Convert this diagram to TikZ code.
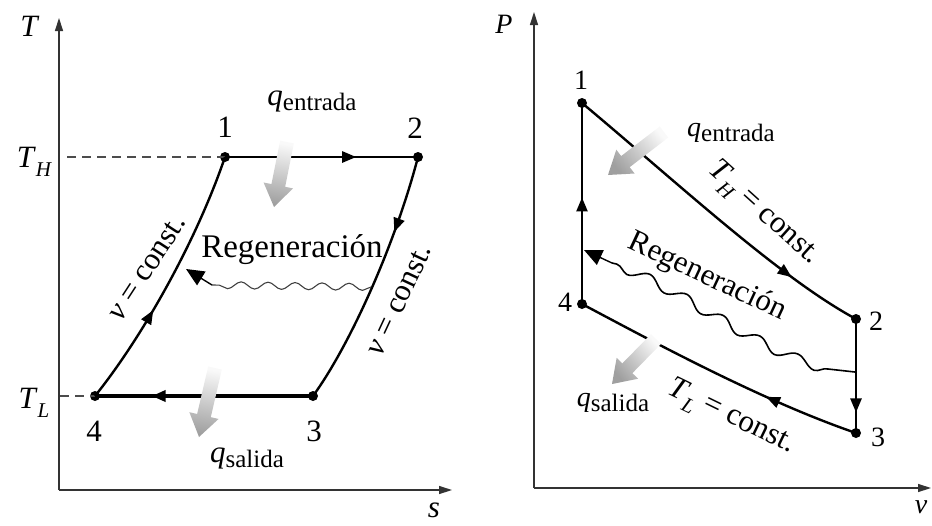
\documentclass[tikz,border=0pt]{standalone}
\usepackage{fontspec}
\setmainfont{Liberation Serif}
\usetikzlibrary{arrows.meta,decorations.markings,decorations.pathmorphing,calc}
\tikzset{
  lbl/.style={inner sep=0pt, font=\fontsize{31}{33}\selectfont},
  slbl/.style={inner sep=0pt, font=\fontsize{28}{30}\selectfont},
  rlbl/.style={inner sep=0pt, font=\fontsize{31}{33}\selectfont},
  reglbl/.style={inner sep=0pt, font=\fontsize{33}{35}\selectfont},
  dot/.style={circle, fill=black, inner sep=0pt, minimum size=10pt},
  axisline/.style={line width=1.4pt, draw=black!80, -{Triangle[length=13pt,width=8pt]}},
  proc/.style={line width=2.4pt},
  thickproc/.style={line width=4pt},
  guide/.style={line width=1.3pt, draw=black!70, dash pattern=on 9pt off 6pt},
  midarrow/.style={postaction={decorate}, decoration={markings,
      mark=at position #1 with {\arrow{Triangle[length=14pt,width=11pt]}}}},
  waveL/.style={line width=1.1pt, draw=black!75, decorate,
      decoration={snake, amplitude=3.5pt, segment length=27pt}},
  waveR/.style={line width=1.6pt, decorate,
      decoration={snake, amplitude=5pt, segment length=42pt}},
  bigtip/.style={line width=1.4pt, -{Triangle[length=18pt,width=16pt]}},
}
\newcommand{\heatarrow}[3]{%
  \coordinate (hb) at ($(#2)!22pt!(#1)$);
  \shade[top color=gray!5, bottom color=gray!75, shading angle=#3]
    ($(#1)!7pt!90:(#2)$) -- ($(hb)!7pt!90:(#2)$) -- ($(hb)!15pt!90:(#2)$) --
    (#2) -- ($(hb)!15pt!-90:(#2)$) -- ($(hb)!7pt!-90:(#2)$) --
    ($(#1)!7pt!-90:(#2)$) -- cycle;}
\newcommand{\iv}[1]{\textit{#1}}
\newcommand{\qsub}[1]{\raisebox{-5pt}{\fontsize{25}{25}\selectfont #1}}
\newcommand{\tsub}[1]{\raisebox{-9pt}{\fontsize{21}{21}\selectfont\itshape #1}}
\begin{document}
\begin{tikzpicture}[x=1pt,y=-1pt]
\useasboundingbox (0,0) rectangle (932,525);
% ---------------- left T-s diagram ----------------
\coordinate (TO) at (59,490);
\coordinate (Ttop) at (59,18);
\coordinate (Send) at (452,490);
\draw[axisline] (TO) -- (Ttop);
\draw[axisline] (TO) -- (Send);
\node[lbl] (Tlab) at (30,26) {\iv{T}};
\node[lbl] (slab) at (434,510) {\iv{s}};
\node[lbl] (THlab) at (34,162) {\iv{T}\tsub{H}};
\node[lbl] (TLlab) at (34,403) {\iv{T}\tsub{L}};

\node[dot] (p1) at (225,157) {};
\node[dot] (p2) at (418,157) {};
\node[dot] (p3) at (313,396) {};
\node[dot] (p4) at (95,396) {};
\coordinate (dH) at (67,157);
\coordinate (dL) at (60,396);
\draw[guide] (dH) -- (p1.center);
\draw[guide] (dL) -- (p4.center);

\draw[proc, midarrow=0.68] (p1.center) -- (p2.center);
\draw[thickproc, midarrow=0.74] (p3.center) -- (p4.center);
\draw[proc, midarrow=0.38] (p4.center) .. controls (140,340) and (195,245) .. (p1.center);
\draw[proc, midarrow=0.30] (p2.center) .. controls (395,245) and (350,345) .. (p3.center);

\node[lbl] (n1) at (225,127) {1};
\node[lbl] (n2) at (415,128) {2};
\node[lbl] (n3) at (314,431) {3};
\node[lbl] (n4) at (94,431) {4};

\node[lbl, rotate=57] (vc1) at (147,268) {\iv{v} = const.};
\node[lbl, rotate=65] (vc2) at (399,300) {\iv{v} = const.};
\node[reglbl] (regL) at (292,250) {Regeneración};

\coordinate (wL1) at (371,287);
\coordinate (wL2) at (212,285);
\coordinate (tL) at (186,269);
\draw[waveL] (wL1) -- (wL2);
\draw[bigtip] (wL2) -- (tL);

\node[lbl] (qinL) at (312,101) {\iv{q}\qsub{entrada}};
\coordinate (qa1) at (287,142);
\coordinate (qa2) at (274,207);
\heatarrow{qa1}{qa2}{-10}
\node[lbl] (qoutL) at (247,458) {\iv{q}\qsub{salida}};
\coordinate (qb1) at (215,368);
\coordinate (qb2) at (199,437);
\heatarrow{qb1}{qb2}{-10}

% ---------------- right P-v diagram ----------------
\coordinate (PO) at (534,488);
\coordinate (Ptop) at (534,12);
\coordinate (Vend) at (931,488);
\draw[axisline] (PO) -- (Ptop);
\draw[axisline] (PO) -- (Vend);
\node[slbl] (Plab) at (504,24) {\iv{P}};
\node[slbl] (vlab) at (921,507) {\iv{v}};

\node[dot] (q1) at (582,103) {};
\node[dot] (q2) at (856,319) {};
\node[dot] (q3) at (856,433) {};
\node[dot] (q4) at (582,304) {};

\draw[proc, midarrow=0.53] (q4.center) -- (q1.center);
\draw[proc, midarrow=0.82] (q2.center) -- (q3.center);
\draw[proc, midarrow=0.78] (q1.center) .. controls (680,185) and (780,278) .. (q2.center);
\draw[proc, midarrow=0.32] (q3.center) .. controls (760,400) and (650,340) .. (q4.center);

\node[slbl] (m1) at (581,80) {1};
\node[slbl] (m2) at (876,321) {2};
\node[slbl] (m3) at (878,437) {3};
\node[slbl] (m4) at (565,302) {4};

\node[rlbl, rotate=-25] (regR) at (707,277) {Regeneración};
\node[rlbl, rotate=-42] (THc) at (763,214) {\iv{T}\tsub{H} = const.};
\node[rlbl, rotate=-26] (TLc) at (731,418) {\iv{T}\tsub{L} = const.};

\coordinate (wR1) at (855,372);
\coordinate (wR2) at (828,369);
\coordinate (wR3) at (612,263);
\coordinate (tR) at (584,250);
\draw[line width=1.6pt] (wR1) -- (wR2);
\draw[waveR] (wR2) .. controls (760,350) and (680,283) .. (wR3);
\draw[bigtip] (wR3) -- (tR);

\node[slbl] (qinR) at (731,133) {\iv{q}\qsub{entrada}};
\coordinate (qc1) at (664,132);
\coordinate (qc2) at (608,175);
\heatarrow{qc1}{qc2}{-50}
\node[slbl] (qoutR) at (613,403) {\iv{q}\qsub{salida}};
\coordinate (qd1) at (656,339);
\coordinate (qd2) at (612,384);
\heatarrow{qd1}{qd2}{-50}
\end{tikzpicture}
\end{document}
